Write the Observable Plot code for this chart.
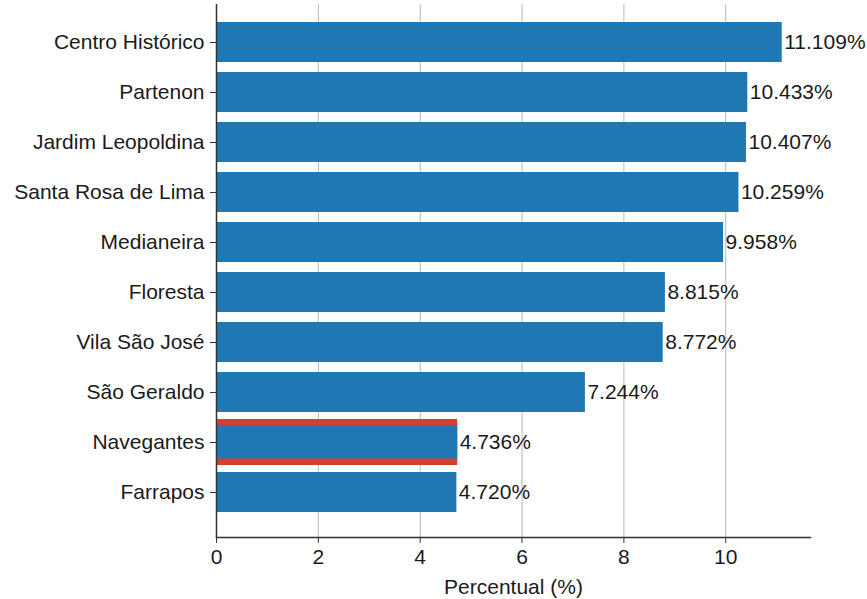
<!DOCTYPE html>
<html>
<head>
<meta charset="utf-8">
<script src="https://cdn.jsdelivr.net/npm/d3@7"></script>
<script src="https://cdn.jsdelivr.net/npm/@observablehq/plot@0.6"></script>
<style>
  html, body { margin: 0; padding: 0; background: #fff; }
  #chart svg { display: block; }
</style>
</head>
<body>
<div id="chart"></div>
<script>
const categories = ["Centro Histórico","Partenon","Jardim Leopoldina","Santa Rosa de Lima","Medianeira","Floresta","Vila São José","São Geraldo","Navegantes","Farrapos"];
const values = [11.109, 10.433, 10.407, 10.259, 9.958, 8.815, 8.772, 7.244, 4.736, 4.720];
const highlighted = ["Navegantes"];
const xTicks = [0, 2, 4, 6, 8, 10];
const xLabel = "Percentual (%)";

const data = categories.map((name, i) => ({name, value: values[i]}));
const hl = data.filter(d => highlighted.includes(d.name));
const xMax = d3.max(values) * 1.05;

const blue = "#1f77b4";
const red = "#d2412f";
const ink = "#1a1a1a";

const chart = Plot.plot({
  width: 867,
  height: 599,
  marginLeft: 216,
  marginRight: 57,
  marginTop: 4,
  marginBottom: 62,
  style: {fontFamily: "Liberation Sans, Arial, sans-serif", fontSize: "21px", color: ink, background: "#fff"},
  x: {domain: [0, xMax]},
  y: {domain: categories, range: [-3, 537], paddingInner: 0.2, paddingOuter: 0.5},
  marks: [
    Plot.gridX({ticks: xTicks.filter(t => t > 0), stroke: "#b8b8b8", strokeOpacity: 1, strokeWidth: 1}),
    Plot.barX(data, {x: "value", y: "name", fill: blue}),
    Plot.barX(hl, {x: "value", y: "name", fill: red, insetTop: -3, insetBottom: -3}),
    Plot.barX(hl, {x: "value", y: "name", fill: blue, insetTop: 3.5, insetBottom: 3.5}),
    Plot.text(data, {x: "value", y: "name", text: d => d.value.toFixed(3) + "%", textAnchor: "start", dx: 2, fontSize: 21, fill: ink}),
    Plot.ruleX([0], {stroke: "#333", strokeWidth: 1.5}),
    Plot.frame({anchor: "bottom", stroke: "#333", strokeWidth: 1.5}),
    Plot.axisX({ticks: xTicks, tickSize: 6, tickPadding: 6, fontSize: 21, stroke: "#333", fill: ink,
      label: xLabel, labelAnchor: "center", labelArrow: "none", labelOffset: 56}),
    Plot.axisY({tickSize: 6, tickPadding: 6, fontSize: 21, stroke: "#333", fill: ink, label: null})
  ]
});
document.getElementById("chart").appendChild(chart);
</script>
</body>
</html>
